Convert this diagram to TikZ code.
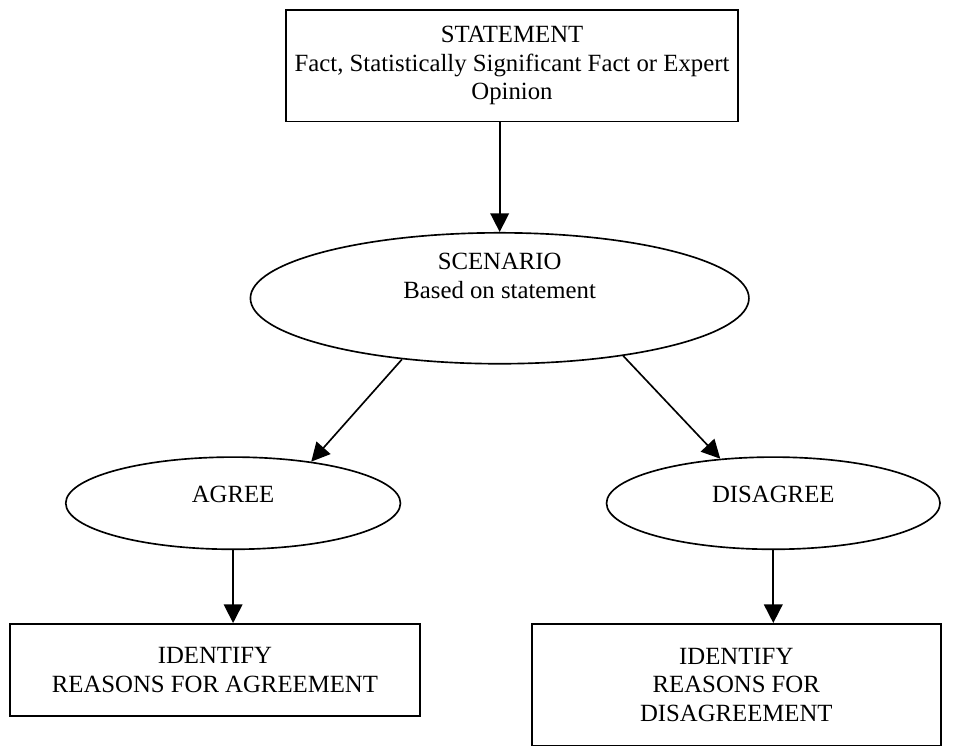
\documentclass[tikz,border=0pt]{standalone}
\usepackage{fontspec}
\setmainfont{Liberation Serif}
\usepackage{tikz}
\usetikzlibrary{shapes.geometric, arrows.meta, positioning, calc}

\begin{document}
\begin{tikzpicture}[
    every node/.style={font=\fontsize{12}{13.8}\selectfont},
    box/.style={draw, rectangle, line width=0.8pt, align=center, inner sep=0pt},
    oval/.style={draw, ellipse, line width=0.8pt, align=center, inner sep=0pt},
    arr/.style={-{Triangle[length=9pt, width=9pt]}, line width=0.8pt}]

\useasboundingbox (0,0) rectangle (16.35,12.87);

\node[box, minimum width=7.70cm, minimum height=1.90cm] (stmt) at (8.72,11.75) {STATEMENT\\Fact, Statistically Significant Fact or Expert\\Opinion};
\node[oval, minimum width=8.49cm, minimum height=2.23cm, text depth=21.8pt] (scen) at (8.51,7.79) {SCENARIO\\Based on statement};
\node[oval, minimum width=5.70cm, minimum height=1.57cm, text depth=9pt] (agree) at (3.97,4.30) {AGREE};
\node[oval, minimum width=5.68cm, minimum height=1.57cm, text depth=9pt] (disagree) at (13.17,4.30) {DISAGREE};
\node[box, minimum width=6.99cm, minimum height=1.57cm] (whyagree) at (3.66,1.46) {IDENTIFY\\REASONS FOR AGREEMENT};
\node[box, minimum width=6.97cm, minimum height=2.07cm] (whydisagree) at (12.54,1.21) {IDENTIFY\\REASONS FOR\\DISAGREEMENT};

\draw[arr] (scen.north |- stmt.south) -- (scen.north);
\draw[arr] (scen.212) -- (agree.28);
\draw[arr] (scen.335) -- (disagree.140);
\draw[arr] (agree.south) -- (agree.south |- whyagree.north);
\draw[arr] (disagree.south) -- (disagree.south |- whydisagree.north);
\end{tikzpicture}
\end{document}
